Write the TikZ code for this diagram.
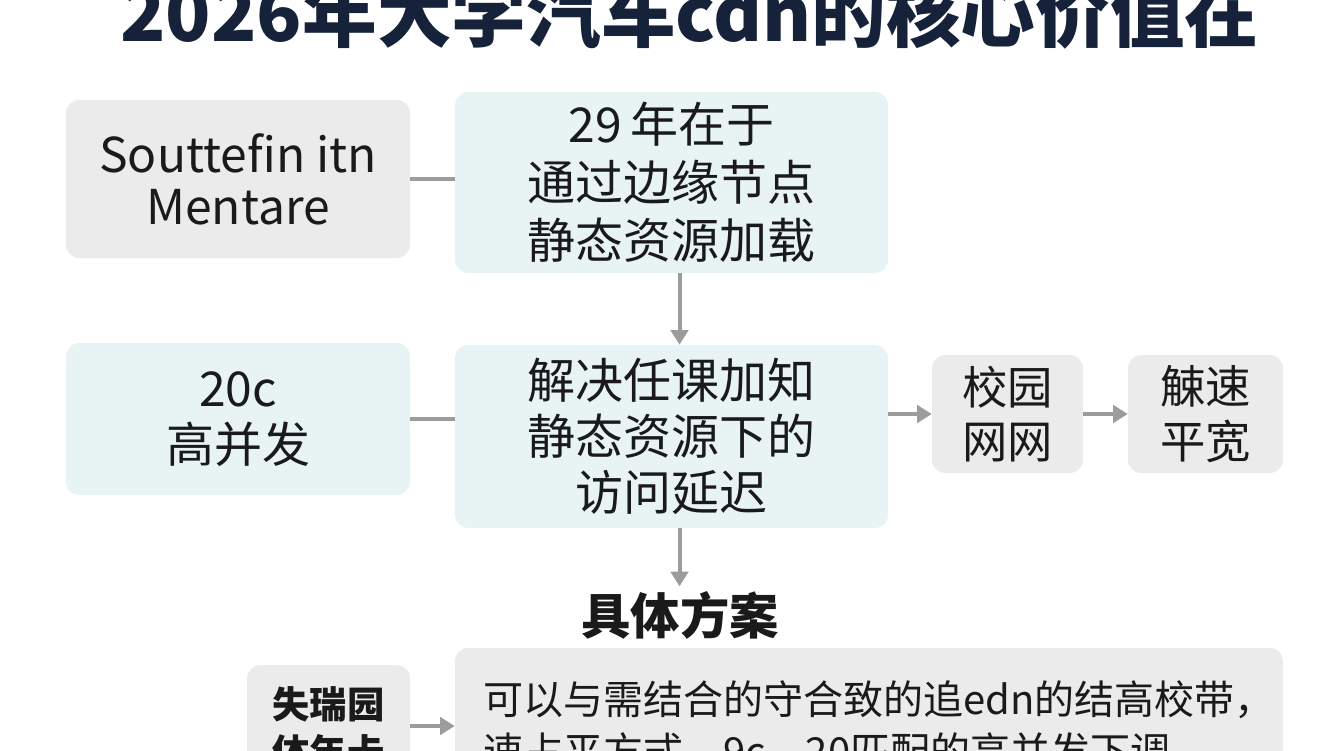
\documentclass[tikz,border=0pt]{standalone}
\usepackage{fontspec}
\setmainfont{Noto Sans CJK SC}
\usetikzlibrary{arrows.meta}
\definecolor{boxgray}{HTML}{EBEBEB}
\definecolor{boxteal}{HTML}{E8F3F3}
\definecolor{linkgray}{HTML}{9C9C9C}
\definecolor{titlenavy}{HTML}{15223A}
\definecolor{inkblack}{HTML}{1A1A1A}

\begin{document}
\begin{tikzpicture}[x=0.75pt, y=-0.75pt,
  box/.style={rounded corners=10pt, inner sep=0pt, align=center, text=inkblack,
    font=\fontsize{36}{42}\selectfont},
  graybox/.style={box, fill=boxgray},
  tealbox/.style={box, fill=boxteal},
  link/.style={draw=linkgray, line width=3pt},
  arrow/.style={link, -{Triangle[length=11pt,width=13pt]}}]
  \useasboundingbox (0,0) rectangle (1344,750);
  \clip (0,0) rectangle (1344,750);
  \fill[white] (0,0) rectangle (1344,750);

  \node[font=\bfseries\fontsize{56}{60}\selectfont, text=titlenavy, anchor=base] (title)
    at (690,41) {2026年大学汽车cdn的核心价值在};

  % upper row
  \node[graybox, minimum width=258pt, minimum height=118.5pt,
    font=\fontsize{36}{39}\selectfont] (mentare) at (238,179) {Souttefin itn\\Mentare};
  \node[tealbox, minimum width=324.75pt, minimum height=135.75pt,
    font=\fontsize{36}{43.5}\selectfont] (edge) at (671.5,182.5) {29\,年在于\\通过边缘节点\\静态资源加载};

  % middle row
  \node[tealbox, minimum width=258pt, minimum height=114pt] (burst) at (238,419) {20c\\高并发};
  \node[tealbox, minimum width=324.75pt, minimum height=137.25pt] (delay)
    at (671.5,436.5) {解决任课加知\\静态资源下的\\访问延迟};
  \node[graybox, minimum width=113.25pt, minimum height=88.5pt,
    font=\fontsize{34}{41}\selectfont] (campus) at (1007.5,414) {校园\\网网};
  \node[graybox, minimum width=116.25pt, minimum height=88.5pt,
    font=\fontsize{34}{41}\selectfont] (speed) at (1205.5,414) {觫速\\平宽};

  % plan
  \node[font=\bfseries\fontsize{37}{44}\selectfont, text=inkblack] (plan) at (680,615) {具体方案};
  \node[graybox, minimum width=122.25pt, minimum height=94.5pt,
    font=\bfseries\fontsize{28}{36}\selectfont] (card) at (328.5,728) {失瑞园\\体年卡};
  \node[graybox, minimum width=621pt, minimum height=117pt] (detail) at (869,726) {};
  \node[anchor=west, align=left, inner sep=0pt, text=inkblack,
    font=\fontsize{30}{39}\selectfont] (detailtext) at (483,726)
    {可以与需结合的守合致的追edn的结高校带，\\速占平方式，9c，20匹配的高并发下调};

  % connectors
  \draw[link] (mentare.east) -- (mentare.east -| edge.west);
  \draw[arrow] ([xshift=6pt]edge.south) -- ([xshift=6pt]delay.north);
  \draw[link] (burst.east) -- (burst.east -| delay.west);
  \draw[arrow] (delay.east |- campus.west) -- (campus.west);
  \draw[arrow] (campus) -- (speed);
  \draw[arrow] ([xshift=6pt]delay.south) -- ([xshift=6pt]delay.south |- plan.north);
  \draw[arrow] (card.east |- detail.west) -- (detail.west);
\end{tikzpicture}
\end{document}
